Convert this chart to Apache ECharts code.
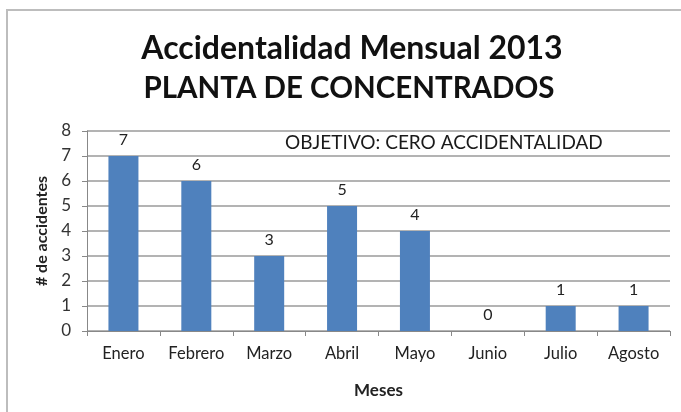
<!DOCTYPE html>
<html><head><meta charset="utf-8">
<script src="https://cdn.jsdelivr.net/npm/echarts@6/dist/echarts.min.js"></script>
<style>html,body{margin:0;padding:0;background:#fff}#c{width:681px;height:412px}</style>
</head><body><div id="c"></div>
<script>
const categories = ['Enero','Febrero','Marzo','Abril','Mayo','Junio','Julio','Agosto'];
const accidentes = [7, 6, 3, 5, 4, 0, 1, 1];
const yTicks = [0,1,2,3,4,5,6,7,8];

const font = 'Lato, "Open Sans", sans-serif';
const chart = echarts.init(document.getElementById('c'), null, {renderer:'canvas'});
chart.setOption({
  backgroundColor: '#fff',
  animation: false,
  graphic: [
    {type:'polyline', shape:{points:[[7,412],[7,10],[681,10]]}, style:{stroke:'#bdbdbd', lineWidth:2, fill:null}},
    {type:'text', x:352, y:33, style:{text:'Accidentalidad Mensual 2013', font:'bold 32px '+font, fill:'#111', align:'center'}},
    {type:'text', x:349, y:73, style:{text:'PLANTA DE CONCENTRADOS', font:'bold 29.5px '+font, fill:'#111', align:'center'}},
    {type:'text', x:285, y:133, style:{text:'OBJETIVO: CERO ACCIDENTALIDAD', font:'19px '+font, fill:'#1a1a1a'}}
  ],
  grid: {left:87, right:11, top:131, bottom:81},
  xAxis: {
    type:'category', data:categories,
    name:'Meses', nameLocation:'middle', nameGap:51,
    nameTextStyle:{fontFamily:font, fontWeight:'bold', fontSize:17, color:'#222'},
    axisLine:{lineStyle:{color:'#888', width:1}},
    axisTick:{show:true, alignWithLabel:false, length:5, lineStyle:{color:'#888'}},
    axisLabel:{interval:0, fontFamily:font, fontSize:16.5, color:'#222', margin:14}
  },
  yAxis: {
    type:'value', min:yTicks[0], max:yTicks[yTicks.length-1], interval:1,
    name:'# de accidentes', nameLocation:'middle', nameGap:37, nameRotate:90,
    nameTextStyle:{fontFamily:font, fontWeight:'bold', fontSize:16, color:'#222'},
    axisLine:{show:true, lineStyle:{color:'#888', width:1}},
    axisTick:{show:true, length:5, lineStyle:{color:'#888'}},
    splitLine:{lineStyle:{color:'#9a9a9a', width:1.5}},
    axisLabel:{fontFamily:font, fontSize:17, color:'#333', margin:16}
  },
  series: [{
    type:'bar', data:accidentes, barWidth:30,
    itemStyle:{color:'#4f81bd'},
    label:{show:true, position:'top', distance:8, fontFamily:font, fontSize:16, color:'#222'}
  }]
});
</script></body></html>
